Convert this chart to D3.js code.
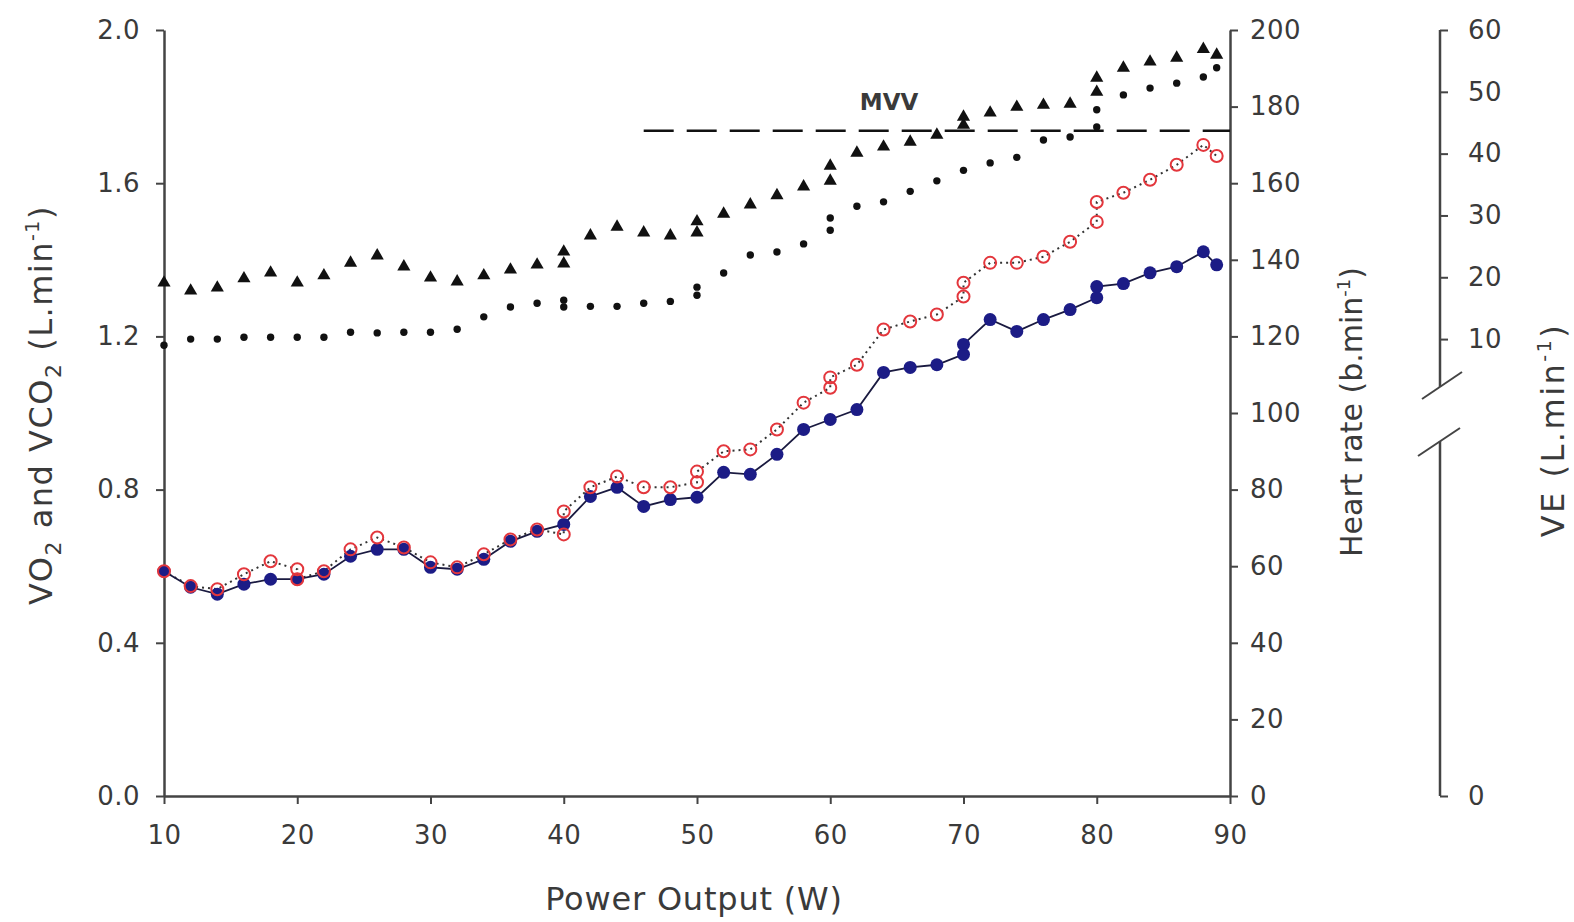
<!DOCTYPE html>
<html>
<head>
<meta charset="utf-8">
<script src="https://cdn.jsdelivr.net/npm/d3@7"></script>
<style>
  body { margin: 0; background: #fff; }
  text { font-family: "DejaVu Sans", "Liberation Sans", sans-serif; fill: #3a3a3a; }
</style>
</head>
<body>
<div class="chart"></div>
<script>
// データ (Power Output W)
var vo2Power = [10,12,14,16,18,20,22,24,26,28,30,32,34,36,38,40,42,44,46,48,50,52,54,56,58,60,62,64,66,68,70,70,72,74,76,78,80,80,82,84,86,88,89];
var vo2 = [0.587,0.545,0.527,0.553,0.566,0.566,0.579,0.626,0.644,0.644,0.597,0.592,0.618,0.665,0.691,0.709,0.782,0.806,0.756,0.774,0.780,0.845,0.840,0.892,0.957,0.983,1.009,1.106,1.119,1.126,1.153,1.179,1.244,1.213,1.244,1.270,1.301,1.330,1.338,1.366,1.382,1.421,1.387];

var vco2Power = [10,12,14,16,18,20,20,22,24,26,28,30,32,34,36,38,40,40,42,44,46,48,50,50,52,54,56,58,60,60,62,64,66,68,70,70,72,74,76,78,80,80,82,84,86,88,89];
var vco2 = [0.587,0.548,0.540,0.579,0.613,0.592,0.566,0.587,0.644,0.675,0.649,0.610,0.597,0.631,0.670,0.696,0.683,0.743,0.806,0.834,0.806,0.806,0.819,0.847,0.900,0.905,0.957,1.027,1.066,1.093,1.126,1.218,1.239,1.257,1.304,1.340,1.392,1.392,1.408,1.447,1.499,1.551,1.575,1.609,1.648,1.700,1.671];

var hrPower = [10,12,14,16,18,20,22,24,26,28,30,32,34,36,38,40,40,42,44,46,48,50,50,52,54,56,58,60,60,62,64,66,68,70,70,72,74,76,78,80,80,82,84,86,88,89];
var heartRate = [134.0,131.9,132.7,135.1,136.6,134.0,135.9,139.2,141.1,138.2,135.3,134.3,135.9,137.4,138.7,139.0,142.1,146.3,148.6,147.1,146.3,147.1,150.0,152.0,154.4,156.8,159.1,160.6,164.5,167.9,169.5,170.8,172.6,175.2,177.3,178.4,179.9,180.4,180.7,183.8,187.5,190.1,191.7,192.7,195.0,193.5];

var vePower = [10,12,14,16,18,20,22,24,26,28,30,32,34,36,38,40,40,42,44,46,48,50,50,52,54,56,58,60,60,62,64,66,68,70,72,74,76,78,80,80,82,84,86,88,89];
var ve = [9.0,10.0,10.0,10.3,10.3,10.3,10.3,11.1,11.0,11.1,11.1,11.6,13.6,15.2,15.8,15.2,16.3,15.3,15.3,15.8,16.1,17.1,18.4,20.7,23.6,24.1,25.4,27.6,29.6,31.5,32.2,33.9,35.6,37.3,38.5,39.4,42.2,42.7,44.3,47.1,49.5,50.6,51.4,52.4,53.9];

// MVV (VE軸)
var mvvValue = 43.7;
var mvvStart = 46;

// 目盛り
var xTicks = [10,20,30,40,50,60,70,80,90];
var leftTicks = [0,0.4,0.8,1.2,1.6,2.0];
var hrTicks = [0,20,40,60,80,100,120,140,160,180,200];
var veTicks = [0,10,20,30,40,50,60];

var W = 1574, H = 922;
var area = {left: 164, right: 1230, top: 30, bottom: 796};
var veAxisX = 1440;

var svg = d3.select("div.chart")
    .append("svg")
    .attr("width", W)
    .attr("height", H);

// スケール
var x = d3.scaleLinear().domain([10, 90]).range([area.left, area.right]);
var yLeft = d3.scaleLinear().domain([0, 2]).range([area.bottom, area.top]);
var yHR = d3.scaleLinear().domain([0, 200]).range([area.bottom, area.top]);
// VE軸は途中で切れている (上部は10-60が線形)
var yVE = d3.scaleLinear().domain([0, 5, 60]).range([area.bottom, 370, area.top]);

function styleAxis(g) {
    g.select(".domain").attr("stroke", "#444").attr("stroke-width", 2.5);
    g.selectAll(".tick line").attr("stroke", "#444").attr("stroke-width", 2);
    g.selectAll(".tick text")
        .style("font-size", "26px")
        .style("letter-spacing", "0.5px")
        .attr("fill", "#3a3a3a");
}

// X軸
svg.append("g")
    .attr("transform", "translate(0," + area.bottom + ")")
    .call(d3.axisBottom(x).tickValues(xTicks).tickSize(8).tickSizeOuter(0).tickPadding(22))
    .call(styleAxis);

// 左Y軸
svg.append("g")
    .attr("transform", "translate(" + area.left + ",0)")
    .call(d3.axisLeft(yLeft).tickValues(leftTicks).tickFormat(d3.format(".1f")).tickSize(8).tickSizeOuter(0).tickPadding(16))
    .call(styleAxis);

// 心拍数軸
svg.append("g")
    .attr("transform", "translate(" + area.right + ",0)")
    .call(d3.axisRight(yHR).tickValues(hrTicks).tickSize(8).tickSizeOuter(0).tickPadding(12))
    .call(styleAxis);

// VE軸
var veAxis = svg.append("g")
    .attr("transform", "translate(" + veAxisX + ",0)")
    .call(d3.axisRight(yVE).tickValues(veTicks).tickSize(8).tickSizeOuter(0).tickPadding(20))
    .call(styleAxis);
veAxis.select(".domain").remove();
veAxis.append("line").attr("x1", 0).attr("x2", 0).attr("y1", yVE(60)).attr("y2", 387)
    .attr("stroke", "#444").attr("stroke-width", 2.5);
veAxis.append("line").attr("x1", 0).attr("x2", 0).attr("y1", 441).attr("y2", yVE(0))
    .attr("stroke", "#444").attr("stroke-width", 2.5);
[[-18, 399, 22, 372], [-22, 456, 20, 428]].forEach(function(s) {
    veAxis.append("line")
        .attr("x1", s[0]).attr("y1", s[1]).attr("x2", s[2]).attr("y2", s[3])
        .attr("stroke", "#444").attr("stroke-width", 2);
});

// 軸タイトル
var leftTitle = svg.append("text")
    .attr("transform", "translate(52,405) rotate(-90)")
    .attr("text-anchor", "middle")
    .style("font-size", "32px")
    .style("letter-spacing", "1.5px");
leftTitle.append("tspan").text("VO");
leftTitle.append("tspan").text("2").style("font-size", "22px").attr("dy", 9);
leftTitle.append("tspan").text(" and VCO").attr("dy", -9);
leftTitle.append("tspan").text("2").style("font-size", "22px").attr("dy", 9);
leftTitle.append("tspan").text(" (L.min").attr("dy", -9);
leftTitle.append("tspan").text("-1").style("font-size", "19px").attr("dy", -13);
leftTitle.append("tspan").text(")").attr("dy", 13);

var hrTitle = svg.append("text")
    .attr("transform", "translate(1362,412) rotate(-90)")
    .attr("text-anchor", "middle")
    .style("font-size", "30px");
hrTitle.append("tspan").text("Heart rate (b.min");
hrTitle.append("tspan").text("-1").style("font-size", "18px").attr("dy", -12);
hrTitle.append("tspan").text(")").attr("dy", 12);

var veTitle = svg.append("text")
    .attr("transform", "translate(1564,430) rotate(-90)")
    .attr("text-anchor", "middle")
    .style("font-size", "32px")
    .style("letter-spacing", "2.5px");
veTitle.append("tspan").text("VE (L.min");
veTitle.append("tspan").text("-1").style("font-size", "19px").attr("dy", -13);
veTitle.append("tspan").text(")").attr("dy", 13);

svg.append("text")
    .attr("x", 694)
    .attr("y", 910)
    .attr("text-anchor", "middle")
    .style("font-size", "32px")
    .style("letter-spacing", "0.8px")
    .text("Power Output (W)");

// MVVライン
svg.append("line")
    .attr("x1", x(mvvStart)).attr("x2", x(90))
    .attr("y1", yVE(mvvValue)).attr("y2", yVE(mvvValue))
    .attr("stroke", "#111").attr("stroke-width", 2.5)
    .attr("stroke-dasharray", "30,13");
svg.append("text")
    .attr("x", 889).attr("y", 110)
    .attr("text-anchor", "middle")
    .style("font-size", "23px")
    .style("font-weight", "bold")
    .attr("fill", "#4a4a4a")
    .text("MVV");

// 線
var vo2Data = vo2Power.map(function(p, i) { return {p: p, v: vo2[i]}; });
var vco2Data = vco2Power.map(function(p, i) { return {p: p, v: vco2[i]}; });
var hrData = hrPower.map(function(p, i) { return {p: p, v: heartRate[i]}; });
var veData = vePower.map(function(p, i) { return {p: p, v: ve[i]}; });

var lineLeft = d3.line()
    .x(function(d) { return x(d.p); })
    .y(function(d) { return yLeft(d.v); });

svg.append("path")
    .datum(vco2Data)
    .attr("d", lineLeft)
    .attr("fill", "none")
    .attr("stroke", "#333")
    .attr("stroke-width", 2)
    .attr("stroke-dasharray", "2,4");

svg.append("path")
    .datum(vo2Data)
    .attr("d", lineLeft)
    .attr("fill", "none")
    .attr("stroke", "#1a1a40")
    .attr("stroke-width", 1.8);

// マーカー
svg.append("g").selectAll("circle")
    .data(vo2Data)
    .enter()
    .append("circle")
    .attr("cx", function(d) { return x(d.p); })
    .attr("cy", function(d) { return yLeft(d.v); })
    .attr("r", 6.5)
    .attr("fill", "#1c1c86");

svg.append("g").selectAll("circle")
    .data(vco2Data)
    .enter()
    .append("circle")
    .attr("cx", function(d) { return x(d.p); })
    .attr("cy", function(d) { return yLeft(d.v); })
    .attr("r", 6)
    .attr("fill", "none")
    .attr("stroke", "#e3363c")
    .attr("stroke-width", 2);

var tri = d3.symbol().type(d3.symbolTriangle).size(75);
svg.append("g").selectAll("path")
    .data(hrData)
    .enter()
    .append("path")
    .attr("d", tri)
    .attr("transform", function(d) { return "translate(" + x(d.p) + "," + yHR(d.v) + ")"; })
    .attr("fill", "#111");

svg.append("g").selectAll("circle")
    .data(veData)
    .enter()
    .append("circle")
    .attr("cx", function(d) { return x(d.p); })
    .attr("cy", function(d) { return yVE(d.v); })
    .attr("r", 3.7)
    .attr("fill", "#111");
</script>
</body>
</html>
